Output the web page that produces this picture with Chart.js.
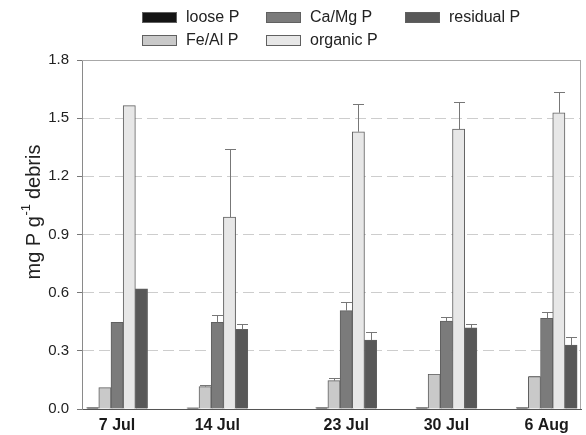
<!DOCTYPE html>
<html>
<head>
<meta charset="utf-8">
<script src="https://cdn.jsdelivr.net/npm/chart.js@4/dist/chart.umd.min.js"></script>
<style>
  html, body { margin: 0; padding: 0; background: #ffffff; }
  #wrap { position: relative; width: 586px; height: 435px; }
  #chart { position: absolute; left: 0; top: 0; }
  .lg-item { position: absolute; height: 20px; font-family: "Liberation Sans", Arial, sans-serif; font-size: 16px; color: #222; white-space: nowrap; }
  .lg-box { position: absolute; left: 0; top: 4px; width: 33px; height: 9px; border: 1px solid #606060; }
  .lg-text { position: absolute; left: 44px; top: 0; line-height: 18px; }
</style>
</head>
<body>
<div id="wrap">
  <canvas id="chart" width="586" height="435"></canvas>
  <div id="legend"></div>
</div>
<script>
// ---- data ----
const categories = ['7 Jul', '14 Jul', '23 Jul', '30 Jul', '6 Aug'];
const sampleDays = [0, 7, 16, 23, 30];          // days after 7 Jul
const seriesNames = ['loose P', 'Fe/Al P', 'Ca/Mg P', 'organic P', 'residual P'];
const looseP    = [0.007, 0.006, 0.007, 0.007, 0.007];
const feAlP     = [0.110, 0.115, 0.146, 0.179, 0.167];
const caMgP     = [0.447, 0.447, 0.507, 0.454, 0.468];
const organicP  = [1.565, 0.990, 1.430, 1.444, 1.528];
const residualP = [0.620, 0.411, 0.356, 0.418, 0.330];
// upper error bars (SD)
const looseErr    = [0, 0, 0, 0, 0];
const feAlErr     = [0, 0.010, 0.014, 0.004, 0.003];
const caMgErr     = [0, 0.036, 0.043, 0.022, 0.032];
const organicErr  = [0, 0.349, 0.143, 0.138, 0.108];
const residualErr = [0, 0.026, 0.041, 0.019, 0.041];
const yTicks = [0, 0.3, 0.6, 0.9, 1.2, 1.5, 1.8];
const yTitleMain = 'mg P g';
const yTitleSup = '-1';
const yTitleTail = ' debris';

const seriesValues = [looseP, feAlP, caMgP, organicP, residualP];
const seriesErrors = [looseErr, feAlErr, caMgErr, organicErr, residualErr];
const fills = ['#141414', '#c9c9c9', '#7b7b7b', '#e7e7e7', '#585858'];
const FONT = '"Liberation Sans", Arial, sans-serif';

const datasets = seriesNames.map((name, i) => ({
  label: name,
  data: sampleDays.map((d, j) => ({ x: d, y: seriesValues[i][j] })),
  errors: seriesErrors[i],
  backgroundColor: fills[i],
  borderColor: '#606060',
  borderWidth: 1,
  barThickness: 12.2
}));

const errorBars = {
  id: 'errorBars',
  afterDatasetsDraw(chart) {
    const ctx = chart.ctx;
    const ys = chart.scales.y;
    ctx.save();
    ctx.strokeStyle = '#777777';
    ctx.lineWidth = 1;
    chart.data.datasets.forEach((ds, i) => {
      const meta = chart.getDatasetMeta(i);
      meta.data.forEach((el, j) => {
        const e = ds.errors[j];
        if (!e) return;
        const top = ys.getPixelForValue(ds.data[j].y + e);
        const x = Math.round(el.x) + 0.5;
        ctx.beginPath();
        ctx.moveTo(x, el.y);
        ctx.lineTo(x, Math.round(top) + 0.5);
        ctx.moveTo(x - 5.5, Math.round(top) + 0.5);
        ctx.lineTo(x + 5.5, Math.round(top) + 0.5);
        ctx.stroke();
      });
    });
    ctx.restore();
  }
};

const frame = {
  id: 'frame',
  beforeDatasetsDraw(chart) {
    const { ctx, chartArea: a } = chart;
    ctx.save();
    ctx.strokeStyle = '#a8a8a8';
    ctx.lineWidth = 1;
    ctx.beginPath();
    ctx.moveTo(a.left, Math.round(a.top) + 0.5);
    ctx.lineTo(a.right, Math.round(a.top) + 0.5);
    ctx.moveTo(Math.round(a.right) - 0.5, a.top);
    ctx.lineTo(Math.round(a.right) - 0.5, a.bottom);
    ctx.stroke();
    ctx.restore();
  },
  afterDraw(chart) {
    const ctx = chart.ctx;
    const big = 20, small = 13;
    ctx.save();
    ctx.translate(34, 212);
    ctx.rotate(-Math.PI / 2);
    ctx.fillStyle = '#222';
    ctx.textBaseline = 'middle';
    ctx.font = big + 'px ' + FONT;
    const w1 = ctx.measureText(yTitleMain).width;
    ctx.font = small + 'px ' + FONT;
    const w2 = ctx.measureText(yTitleSup).width;
    ctx.font = big + 'px ' + FONT;
    const w3 = ctx.measureText(yTitleTail).width;
    let x = -(w1 + w2 + w3) / 2;
    ctx.textAlign = 'left';
    ctx.fillText(yTitleMain, x, 0);
    x += w1;
    ctx.font = small + 'px ' + FONT;
    ctx.fillText(yTitleSup, x + 0.5, -8);
    x += w2;
    ctx.font = big + 'px ' + FONT;
    ctx.fillText(yTitleTail, x, 0);
    ctx.restore();
  }
};

const chart = new Chart(document.getElementById('chart'), {
  type: 'bar',
  data: { datasets },
  plugins: [errorBars, frame],
  options: {
    responsive: false,
    animation: false,
    devicePixelRatio: 1,
    layout: { padding: { top: 60, right: 5, bottom: 0, left: 0 } },
    plugins: { legend: { display: false }, tooltip: { enabled: false } },
    scales: {
      x: {
        type: 'linear',
        min: -2.45,
        max: 32.4,
        offset: false,
        afterBuildTicks(scale) { scale.ticks = sampleDays.map(v => ({ value: v })); },
        afterFit(scale) { scale.height = 26; },
        grid: { display: false, drawTicks: false },
        border: { display: true, color: '#555555', width: 1 },
        ticks: {
          autoSkip: false,
          maxRotation: 0,
          padding: 7,
          color: '#1a1a1a',
          font: { family: FONT, size: 16, weight: 'bold' },
          callback: (v) => categories[sampleDays.indexOf(v)]
        }
      },
      y: {
        min: 0,
        max: 1.8,
        afterBuildTicks(scale) { scale.ticks = yTicks.map(v => ({ value: v })); },
        afterFit(scale) { scale.width = 82; },
        grid: {
          color: (c) => (c.index === 0 || c.index === yTicks.length - 1) ? 'rgba(0,0,0,0)' : '#cdcdcd',
          lineWidth: 1,
          tickColor: '#777777',
          tickLength: 5,
          tickBorderDash: []
        },
        border: { display: true, color: '#8a8a8a', width: 1, dash: [11, 5] },
        ticks: {
          padding: 8,
          color: '#222',
          font: { family: FONT, size: 15 },
          callback: (v) => Number(v).toFixed(1)
        },
        title: { display: false }
      }
    }
  }
});

// legend built from the chart's datasets (3 columns, column-major)
const legendPos = [
  { left: 142, top: 8 },   // loose P
  { left: 142, top: 31 },  // Fe/Al P
  { left: 266, top: 8 },   // Ca/Mg P
  { left: 266, top: 31 },  // organic P
  { left: 405, top: 8 }    // residual P
];
const lg = document.getElementById('legend');
chart.data.datasets.forEach((ds, i) => {
  const item = document.createElement('div');
  item.className = 'lg-item';
  item.style.left = legendPos[i].left + 'px';
  item.style.top = legendPos[i].top + 'px';
  const box = document.createElement('span');
  box.className = 'lg-box';
  box.style.background = ds.backgroundColor;
  const txt = document.createElement('span');
  txt.className = 'lg-text';
  txt.textContent = ds.label;
  item.appendChild(box);
  item.appendChild(txt);
  lg.appendChild(item);
});
</script>
</body>
</html>
